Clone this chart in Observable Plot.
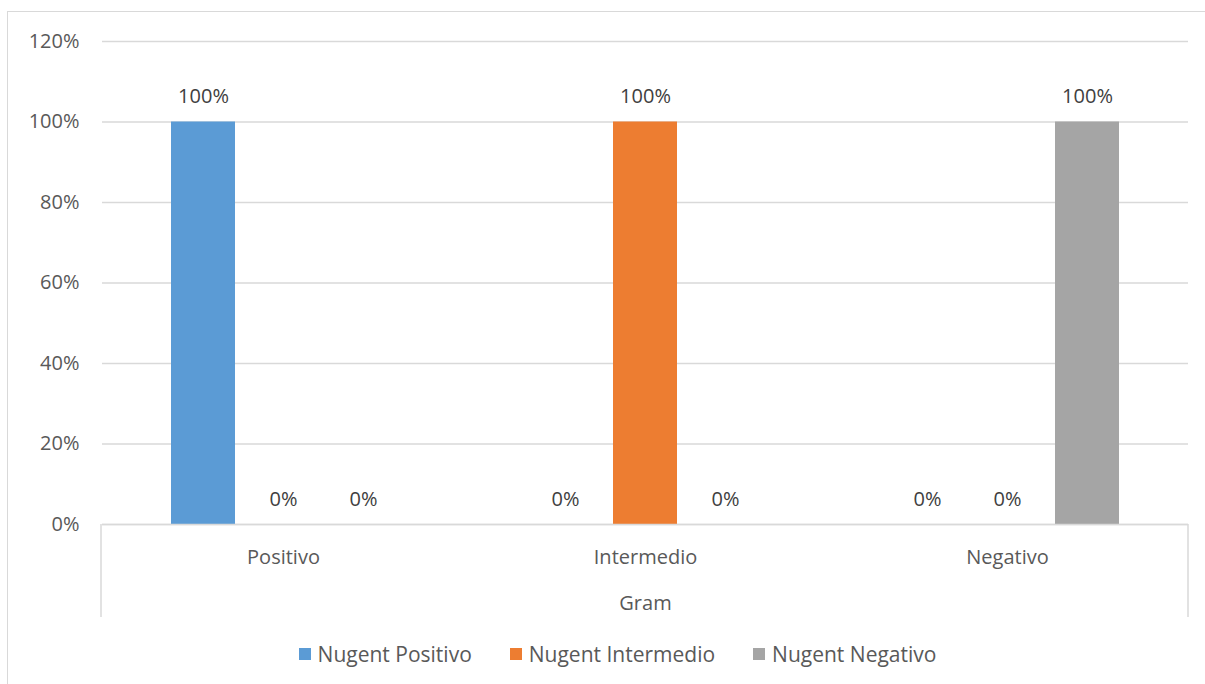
<!DOCTYPE html>
<html>
<head>
<meta charset="utf-8">
<script src="https://cdn.jsdelivr.net/npm/d3@7"></script>
<script src="https://cdn.jsdelivr.net/npm/@observablehq/plot@0.6"></script>
<style>
  html, body { margin: 0; padding: 0; background: #fff; overflow: hidden; }
  #wrap { position: relative; width: 1205px; height: 684px; font-family: "Open Sans", sans-serif; }
  #border { position: absolute; left: 7px; top: 11px; width: 1300px; height: 800px; border: 1.5px solid #d9d9d9; box-sizing: border-box; }
  #chart { position: absolute; left: 0; top: 0; }
  #legend { position: absolute; top: 640px; left: 0; width: 1205px; display: flex; justify-content: center; gap: 38px; font-size: 21px; color: #595959; padding-left: 30px; box-sizing: border-box; }
  #legend .item { display: flex; align-items: center; gap: 7px; }
  #legend .sw { width: 12px; height: 12px; display: inline-block; }
</style>
</head>
<body>
<div id="wrap">
  <div id="border"></div>
  <div id="chart"></div>
  <div id="legend"></div>
</div>
<script>
// Data
const categories = ["Positivo", "Intermedio", "Negativo"];   // Gram categories
const series = ["Nugent Positivo", "Nugent Intermedio", "Nugent Negativo"];
const nugentPositivo = [1, 0, 0];
const nugentIntermedio = [0, 1, 0];
const nugentNegativo = [0, 0, 1];
const colors = ["#5B9BD5", "#ED7D31", "#A5A5A5"];
const yTicks = [0, 0.2, 0.4, 0.6, 0.8, 1.0, 1.2];

const seriesValues = [nugentPositivo, nugentIntermedio, nugentNegativo];
const data = [];
categories.forEach((c, ci) => {
  series.forEach((s, si) => {
    data.push({gram: c, serie: s, value: seriesValues[si][ci]});
  });
});

const pct = d3.format(".0%");
const W = 1205, H = 630;

const plot = Plot.plot({
  width: W,
  height: H,
  marginLeft: 101,
  marginRight: 17,
  marginTop: 41,
  marginBottom: 106,
  style: {fontFamily: "'Open Sans', sans-serif", fontSize: "20px", color: "#595959", background: "transparent"},
  fx: {domain: categories, padding: 0},
  x: {domain: series, paddingInner: 0.2, paddingOuter: 0.8625, axis: null},
  y: {domain: [0, 1.2], ticks: yTicks},
  color: {domain: series, range: colors},
  marks: [
    Plot.gridY(yTicks, {stroke: "#d9d9d9", strokeOpacity: 1, strokeWidth: 1.5}),
    Plot.axisY(yTicks, {tickSize: 0, tickPadding: 23, tickFormat: pct, fill: "#595959", label: null}),
    Plot.axisFx({anchor: "bottom", tickSize: 0, tickPadding: 25, fill: "#595959",
      label: "Gram", labelAnchor: "center", labelArrow: "none", labelOffset: 85}),
    Plot.barY(data, {fx: "gram", x: "serie", y: "value", fill: "serie"}),
    Plot.ruleY([0], {stroke: "#d9d9d9", strokeWidth: 1.5}),
    Plot.text(data, {fx: "gram", x: "serie", y: "value", text: d => pct(d.value), dy: -25, fill: "#404040", fontSize: 20})
  ]
});
document.getElementById("chart").appendChild(plot);

// outer category dividers below the axis
const fx = plot.scale("fx");
const y = plot.scale("y");
const svg = d3.select(plot);
const y0 = y.apply(0);
[fx.range[0], fx.range[1]].forEach(xp => {
  svg.append("line").attr("x1", xp).attr("x2", xp).attr("y1", y0).attr("y2", y0 + 93)
    .attr("stroke", "#d9d9d9").attr("stroke-width", 1.5);
});

// legend
const legend = d3.select("#legend");
series.forEach((s, i) => {
  const it = legend.append("div").attr("class", "item");
  it.append("span").attr("class", "sw").style("background", colors[i]);
  it.append("span").text(s);
});
</script>
</body>
</html>
